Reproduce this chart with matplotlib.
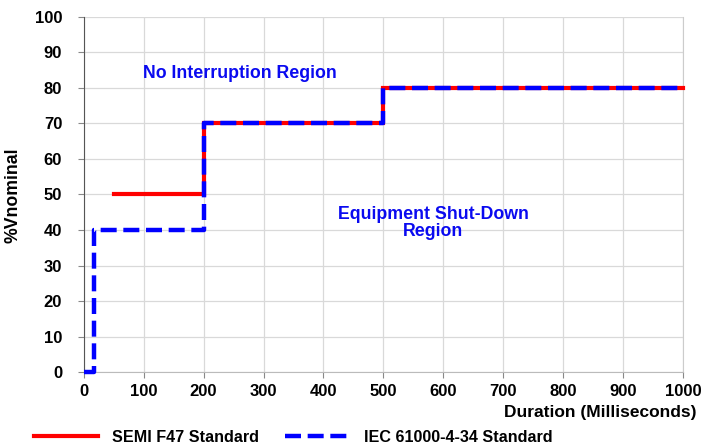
import matplotlib.pyplot as plt

plt.rcParams['font.family'] = ['Liberation Sans', 'DejaVu Sans']
plt.rcParams['font.weight'] = 'bold'

# SEMI F47 curve (duration ms, %Vnominal)
semi_x = [50, 200, 200, 500, 500, 1000]
semi_y = [50, 50, 70, 70, 80, 80]

# IEC 61000-4-34 curve
iec_x = [0, 17, 17, 200, 200, 500, 500, 1000]
iec_y = [0, 0, 40, 40, 70, 70, 80, 80]

x_ticks = list(range(0, 1001, 100))
y_ticks = list(range(0, 101, 10))

fig = plt.figure(figsize=(7.04, 4.44), dpi=100)
ax = fig.add_axes([0.119, 0.162, 0.851, 0.800])

ax.plot(semi_x, semi_y, color='#ff0000', lw=3, solid_joinstyle='miter',
        label='SEMI F47 Standard', zorder=3, clip_on=False)
ax.plot(iec_x, iec_y, color='#0000ff', lw=3.2, ls=(0, (3.6, 1.5)),
        label='IEC 61000-4-34 Standard', zorder=4, clip_on=False)

ax.set_xlim(0, 1000)
ax.set_ylim(0, 100)
ax.set_xticks(x_ticks)
ax.set_yticks(y_ticks)
ax.tick_params(labelsize=12, length=4.5, width=0.8, color='#888888')
ax.tick_params(axis='y', pad=11)
ax.tick_params(axis='x', pad=4)
ax.grid(True, color='#d9d9d9', lw=0.9)
ax.set_axisbelow(True)

ax.spines['top'].set_visible(False)
ax.spines['right'].set_color('#cccccc')
ax.spines['left'].set_color('#555555')
ax.spines['bottom'].set_color('#bbbbbb')

ax.set_ylabel('%Vnominal', fontsize=12.7, fontweight='bold')
ax.yaxis.set_label_coords(22 / 704, 1 - 195 / 444, transform=fig.transFigure)
fig.text(696 / 704, 1 - 412 / 444, 'Duration (Milliseconds)', fontsize=12.5,
         fontweight='bold', ha='right', va='center')

ax.text(260, 84, 'No Interruption Region', color='#0a0af0', fontsize=12.8,
        fontweight='bold', ha='center', va='center')
ax.text(583, 42, 'Equipment Shut-Down\nRegion', color='#0a0af0', fontsize=12.8,
        fontweight='bold', ha='center', va='center', linespacing=1.0)

fig.legend(loc='lower left', bbox_to_anchor=(0.027, -0.035), ncol=2, frameon=False,
           fontsize=11.6, handlelength=4.0, handletextpad=0.9, columnspacing=1.6)

fig.savefig('out.png', dpi=100)
